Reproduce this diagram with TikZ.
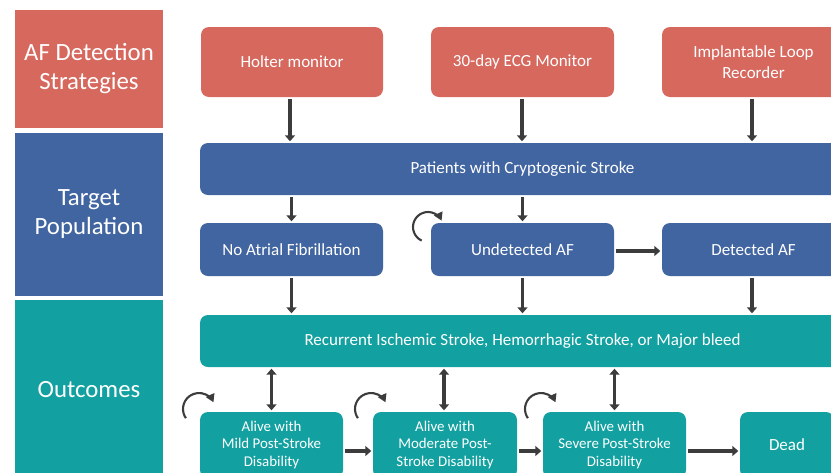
\documentclass[tikz,border=0pt]{standalone}
\usepackage{fontspec}
\setmainfont{Carlito}
\usetikzlibrary{arrows.meta}
\definecolor{afred}{HTML}{D6685E}
\definecolor{afblue}{HTML}{4165A0}
\definecolor{afteal}{HTML}{12A0A0}
\definecolor{arrowgray}{HTML}{3C3C3C}
\tikzset{
  lab/.style={rectangle, minimum width=148pt, text=white, align=center,
    font=\fontsize{24.8}{29}\selectfont, inner sep=0pt},
  box/.style={rectangle, rounded corners=8pt, text=white, align=center,
    font=\fontsize{17}{20.5}\selectfont, inner sep=0pt},
  sbox/.style={box, font=\fontsize{14.9}{17.5}\selectfont},
  flow/.style={draw=arrowgray, line width=3.6pt,
    -{Triangle[width=10pt,length=6pt]}, shorten >=1.5pt, shorten <=2pt},
  dflow/.style={draw=arrowgray, line width=3.6pt,
    {Triangle[width=10pt,length=6pt]}-{Triangle[width=10pt,length=6pt]}, shorten >=1.5pt, shorten <=1.5pt},
  selfloop/.style={draw=arrowgray, line width=2.1pt, -{Triangle[width=9pt,length=8pt]}},
}
\begin{document}
\begin{tikzpicture}[x=1pt,y=-1pt]
\useasboundingbox (0,0) rectangle (831,472);
\clip (0,0) rectangle (831,472);
\fill[white] (0,0) rectangle (831,472);
% left labels
\node[lab, fill=afred, minimum height=118pt] (l1) at (89,69) {AF Detection\\Strategies};
\node[lab, fill=afblue, minimum height=163pt] (l2) at (89,214.5) {Target\\Population};
\node[lab, fill=afteal, minimum height=180pt] (l3) at (89,390) {Outcomes};
% detection strategies
\node[box, fill=afred, minimum width=182pt, minimum height=70pt] (holter) at (292,62) {Holter monitor};
\node[box, fill=afred, minimum width=183pt, minimum height=70pt] (ecg) at (522.5,62) {30-day ECG Monitor};
\node[box, fill=afred, minimum width=183pt, minimum height=70pt] (ilr) at (753.5,62) {Implantable Loop\\Recorder};
% population
\node[box, fill=afblue, minimum width=645pt, minimum height=52pt] (pat) at (522.5,169) {Patients with Cryptogenic Stroke};
\node[box, fill=afblue, minimum width=183pt, minimum height=53pt] (noaf) at (291.5,249.5) {No Atrial Fibrillation};
\node[box, fill=afblue, minimum width=183pt, minimum height=53pt] (und) at (522.5,249.5) {Undetected AF};
\node[box, fill=afblue, minimum width=183pt, minimum height=53pt] (det) at (753.5,249.5) {Detected AF};
% outcomes
\node[box, fill=afteal, minimum width=645pt, minimum height=52pt] (rec) at (522.5,341) {Recurrent Ischemic Stroke, Hemorrhagic Stroke, or Major bleed};
\node[sbox, fill=afteal, minimum width=143pt, minimum height=66pt] (mild) at (271.5,445) {Alive with\\Mild Post-Stroke\\Disability};
\node[sbox, fill=afteal, minimum width=144pt, minimum height=66pt] (mod) at (445,445) {Alive with\\Moderate Post-\\Stroke Disability};
\node[sbox, fill=afteal, minimum width=143pt, minimum height=66pt] (sev) at (614.5,445) {Alive with\\Severe Post-Stroke\\Disability};
\node[box, fill=afteal, minimum width=94pt, minimum height=66pt] (dead) at (787,445) {Dead};
% arrows
\draw[flow] ([xshift=-2pt]holter.south) -- ([xshift=-2pt]holter.south |- pat.north);
\draw[flow] ([xshift=-0.5pt]ecg.south) -- ([xshift=-0.5pt]ecg.south |- pat.north);
\draw[flow] ([xshift=-1.5pt]ilr.south) -- ([xshift=-1.5pt]ilr.south |- pat.north);
\draw[flow] (noaf.north |- pat.south) -- (noaf.north);
\draw[flow] (und.north |- pat.south) -- (und.north);
\draw[flow] (noaf.south) -- (noaf.south |- rec.north);
\draw[flow] (und.south) -- (und.south |- rec.north);
\draw[flow] ([xshift=-1.5pt]det.south) -- ([xshift=-1.5pt]det.south |- rec.north);
\draw[flow] ([yshift=-1.5pt]und.east) -- ([yshift=-1.5pt]det.west);
\draw[dflow] (mild.north |- rec.south) -- (mild.north);
\draw[dflow] ([xshift=-1pt]mod.north |- rec.south) -- ([xshift=-1pt]mod.north);
\draw[dflow] (sev.north |- rec.south) -- (sev.north);
\draw[flow] ([yshift=-6pt]mild.east) -- ([yshift=-6pt]mod.west);
\draw[flow] ([yshift=-6pt]mod.east) -- ([yshift=-6pt]sev.west);
\draw[flow] ([yshift=-6pt]sev.east) -- ([yshift=-6pt]dead.west);
% self loops (explicit pt units: angles in true orientation)
\coordinate (cu) at (428,227);
\coordinate (cm) at (199,409);
\coordinate (cd) at (371,409);
\coordinate (cs) at (541,409);
\draw[selfloop] ([shift={(245:15pt)}]cu) arc[start angle=245, end angle=25, radius=15pt];
\draw[selfloop] ([shift={(215:16pt)}]cm) arc[start angle=215, end angle=25, radius=16pt];
\draw[selfloop] ([shift={(215:16pt)}]cd) arc[start angle=215, end angle=25, radius=16pt];
\draw[selfloop] ([shift={(215:16pt)}]cs) arc[start angle=215, end angle=25, radius=16pt];
\end{tikzpicture}
\end{document}
